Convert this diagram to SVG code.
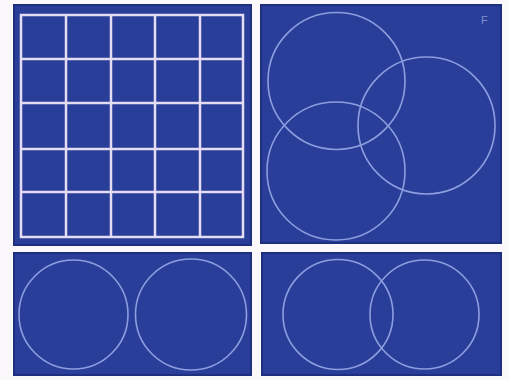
<svg xmlns="http://www.w3.org/2000/svg" width="509" height="380" viewBox="0 0 509 380">
<style>
.panel{fill:#293e98;stroke:#1f2f80;stroke-width:2}
.grid{stroke:#e4dcf2;stroke-width:2.5;fill:none}
.circ{fill:none;stroke:#8d9ee0;stroke-width:1.6}
.lbl{font-family:"Liberation Sans",Arial,sans-serif;font-size:11px;fill:#7f90d0}
</style>
<rect width="509" height="380" fill="#fbf8fc"/>
<g id="panel-grid">
<rect class="panel" x="14" y="5" width="237" height="240"/>
<rect class="grid" x="21" y="15" width="222" height="222"/>
<path class="grid" d="M66 15V237M111 15V237M155 15V237M200 15V237M21 59H243M21 103H243M21 149H243M21 192H243"/>
</g>
<g id="panel-three-circles">
<rect class="panel" x="261" y="5" width="240" height="238"/>
<circle class="circ" cx="336.5" cy="81" r="68.5"/>
<circle class="circ" cx="426.5" cy="125.5" r="68.5"/>
<circle class="circ" cx="336" cy="171" r="69"/>
<text class="lbl" x="481" y="24">F</text>
</g>
<g id="panel-two-separate">
<rect class="panel" x="14" y="253" width="237" height="122"/>
<circle class="circ" cx="73.5" cy="314.5" r="54.5"/>
<circle class="circ" cx="191" cy="314.5" r="55.5"/>
</g>
<g id="panel-two-overlap">
<rect class="panel" x="262" y="253" width="239" height="122"/>
<circle class="circ" cx="338" cy="314.5" r="55"/>
<circle class="circ" cx="424.5" cy="314.5" r="54.5"/>
</g>
</svg>
